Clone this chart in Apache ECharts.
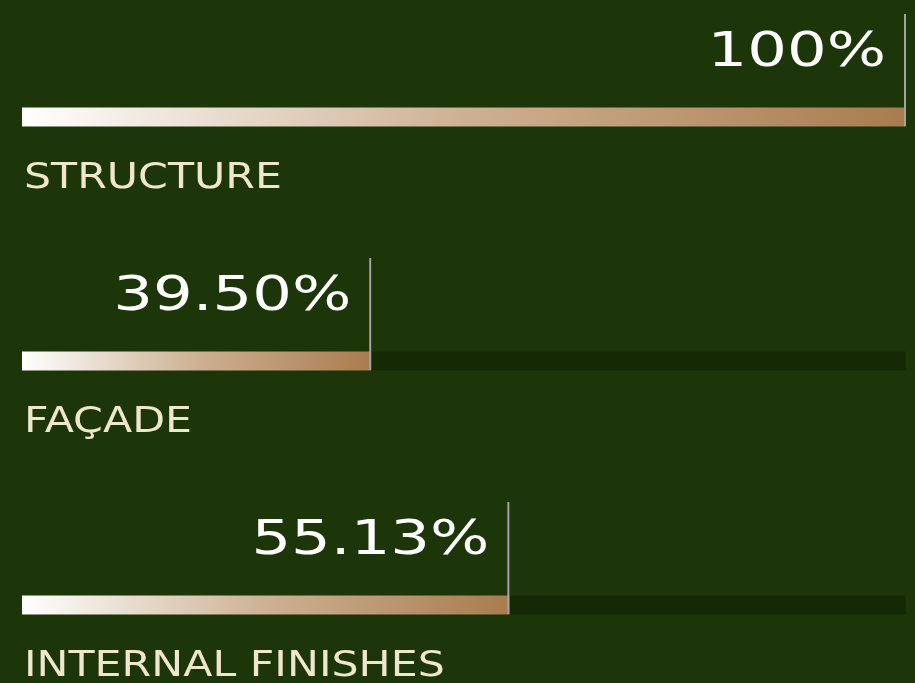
<!DOCTYPE html>
<html>
<head>
<meta charset="utf-8">
<script src="https://cdn.jsdelivr.net/npm/echarts@6/dist/echarts.min.js"></script>
<style>
  html, body { margin: 0; padding: 0; background: #1c3609; }
  #main { width: 915px; height: 683px; }
</style>
</head>
<body>
<div id="main"></div>
<script>
// progress per work package
const categories = ['STRUCTURE', 'FAÇADE', 'INTERNAL FINISHES'];
const values = [100, 39.50, 55.13];
const valueLabels = ['100%', '39.50%', '55.13%'];

const chartDom = document.getElementById('main');
const myChart = echarts.init(chartDom);

const goldGradient = new echarts.graphic.LinearGradient(0, 0, 1, 0, [
    { offset: 0, color: '#ffffff' },
    { offset: 0.5, color: '#cdb193' },
    { offset: 1, color: '#a97c4f' }
]);

function renderMarks(params, api) {
    const idx = api.value(0);
    const end = api.coord([api.value(1), idx]);
    const start = api.coord([0, idx]);
    return {
        type: 'group',
        children: [
            {
                // vertical marker at the bar end
                type: 'line',
                shape: { x1: end[0] - 1, y1: end[1] + 9, x2: end[0] - 1, y2: end[1] - 103 },
                style: { stroke: '#a3a3a3', lineWidth: 2 }
            },
            {
                type: 'text',
                x: end[0] - 20,
                y: end[1] - 63,
                scaleX: 1.3,
                style: {
                    text: valueLabels[idx],
                    fill: '#ffffff',
                    font: '48px "DejaVu Sans"',
                    align: 'right',
                    verticalAlign: 'middle'
                }
            },
            {
                type: 'text',
                x: start[0] + 2,
                y: end[1] + 62,
                scaleX: 1.22,
                style: {
                    text: categories[idx],
                    fill: '#efe6cc',
                    font: '35px "DejaVu Sans"',
                    align: 'left',
                    verticalAlign: 'middle'
                }
            }
        ]
    };
}

const option = {
    backgroundColor: '#1c3609',
    animation: false,
    grid: { left: 22, right: 9, top: 117, bottom: 78 },
    xAxis: {
        type: 'value',
        min: 0,
        max: 100,
        show: false
    },
    yAxis: {
        type: 'category',
        data: categories,
        inverse: true,
        boundaryGap: false,
        show: false
    },
    series: [
        {
            type: 'bar',
            data: values,
            barWidth: 19,
            showBackground: true,
            backgroundStyle: { color: '#142a04' },
            itemStyle: { color: goldGradient }
        },
        {
            type: 'custom',
            renderItem: renderMarks,
            data: values.map((v, i) => [i, v]),
            encode: { x: 1, y: 0 },
            z: 5
        }
    ]
};
myChart.setOption(option);
</script>
</body>
</html>
